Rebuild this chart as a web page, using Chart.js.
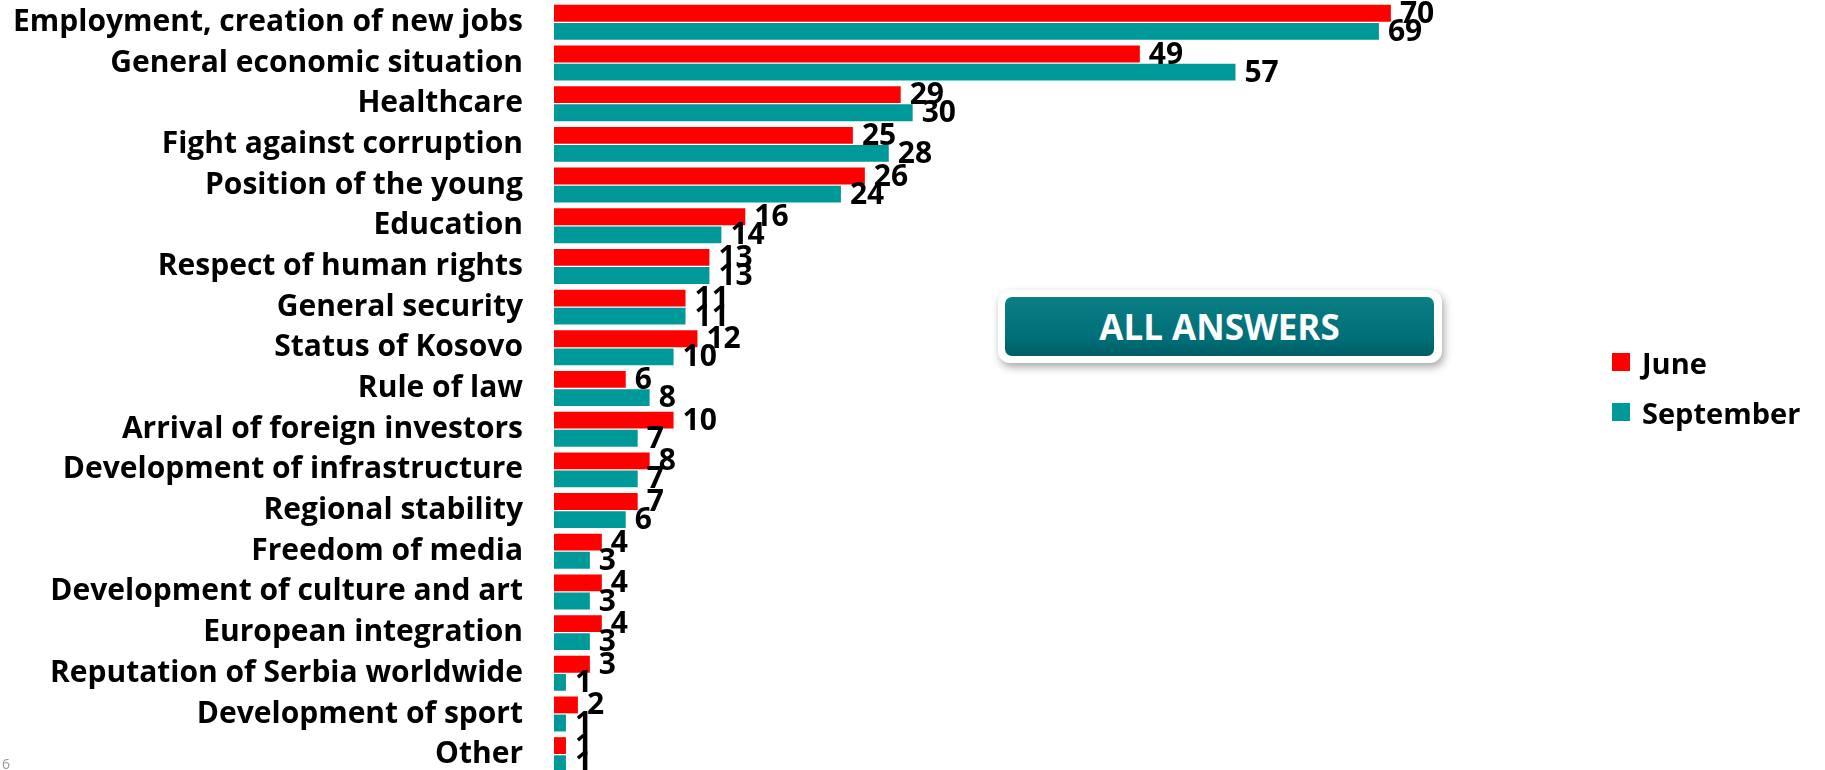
<!DOCTYPE html>
<html>
<head>
<meta charset="utf-8">
<script src="https://cdn.jsdelivr.net/npm/chart.js@4.4.0/dist/chart.umd.min.js"></script>
<style>
  html, body { margin: 0; padding: 0; background: #fff; }
  body { width: 1825px; height: 770px; overflow: hidden; position: relative; font-family: 'Open Sans', sans-serif; }
  #chart { position: absolute; left: 0; top: 0; }
  .badge {
    position: absolute; left: 998px; top: 290px; width: 444px; height: 73px;
    background: #fff; border-radius: 12px; box-shadow: 2px 4px 9px rgba(0,0,0,0.35);
  }
  .badge div {
    position: absolute; left: 7px; top: 7px; right: 8px; bottom: 7px; border-radius: 7px;
    background: linear-gradient(#0b7e86, #006f77 70%, #005d64);
    color: #fff; font-weight: bold; font-size: 35px; text-align: center; line-height: 59px;
  }
  #legend { position: absolute; left: 1612px; top: 337px; }
  .item { height: 50px; display: flex; align-items: center; font-weight: bold; font-size: 29px; color: #000; }
  .item span { display: inline-block; width: 18px; height: 18px; margin-right: 12px; }
  .page { position: absolute; left: 2px; top: 754px; font-size: 14px; color: #999; }
</style>
</head>
<body>
<canvas id="chart" width="1630" height="775"></canvas>
<div class="badge"><div>ALL ANSWERS</div></div>
<div id="legend"></div>
<div class="page">6</div>
<script>
let categories = ['Employment, creation of new jobs', 'General economic situation', 'Healthcare',
  'Fight against corruption', 'Position of the young', 'Education', 'Respect of human rights',
  'General security', 'Status of Kosovo', 'Rule of law', 'Arrival of foreign investors',
  'Development of infrastructure', 'Regional stability', 'Freedom of media',
  'Development of culture and art', 'European integration', 'Reputation of Serbia worldwide',
  'Development of sport', 'Other'];
let juneValues = [70, 49, 29, 25, 26, 16, 13, 11, 12, 6, 10, 8, 7, 4, 4, 4, 3, 2, 1];
let septemberValues = [69, 57, 30, 28, 24, 14, 13, 11, 10, 8, 7, 7, 6, 3, 3, 3, 1, 1, 1];
let seriesNames = ['June', 'September'];
let seriesColors = ['#ff0000', '#009999'];

// value labels at the end of each bar
let barLabels = {
    id: 'barLabels',
    afterDatasetsDraw(chart) {
        let ctx = chart.ctx;
        ctx.save();
        ctx.font = "bold 30px 'Open Sans'";
        ctx.fillStyle = '#000';
        ctx.textAlign = 'left';
        ctx.textBaseline = 'middle';
        chart.data.datasets.forEach((ds, i) => {
            chart.getDatasetMeta(i).data.forEach((bar, j) => {
                ctx.fillText(ds.data[j], bar.x + 9, bar.y + 1);
            });
        });
        ctx.restore();
    }
};

let surveyChart = new Chart(document.getElementById('chart'), {
    type: 'bar',
    data: {
        labels: categories,
        datasets: [{
            label: seriesNames[0],
            data: juneValues,
            backgroundColor: seriesColors[0],
            categoryPercentage: 0.89,
            barPercentage: 0.93
        }, {
            label: seriesNames[1],
            data: septemberValues,
            backgroundColor: seriesColors[1],
            categoryPercentage: 0.89,
            barPercentage: 0.93
        }]
    },
    options: {
        indexAxis: 'y',
        responsive: false,
        animation: false,
        devicePixelRatio: 1,
        layout: { padding: { top: 2, bottom: 0, left: 0, right: 0 } },
        plugins: {
            legend: { display: false },
            tooltip: { enabled: false }
        },
        scales: {
            x: { display: false, min: 0, max: 90 },
            y: {
                grid: { display: false, drawTicks: false },
                border: { display: false },
                afterFit: (scale) => {
                    scale.width = 554;
                    scale.paddingTop = 0;
                    scale.paddingBottom = 0;
                },
                ticks: {
                    autoSkip: false,
                    padding: 31,
                    color: '#000',
                    font: { family: 'Open Sans', weight: 'bold', size: 30 }
                }
            }
        }
    },
    plugins: [barLabels]
});

let legend = document.getElementById('legend');
surveyChart.data.datasets.forEach((ds) => {
    let item = document.createElement('div');
    item.className = 'item';
    item.innerHTML = '<span style="background:' + ds.backgroundColor + '"></span>' + ds.label;
    legend.appendChild(item);
});
</script>
</body>
</html>
